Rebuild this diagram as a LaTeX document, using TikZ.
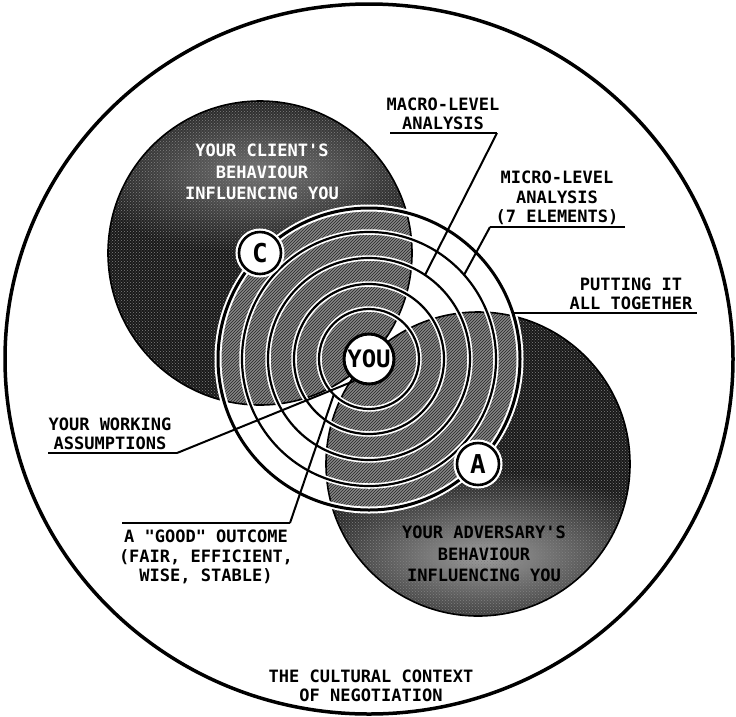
\documentclass[tikz,border=0pt]{standalone}
\usepackage{fontspec}
\newfontfamily\labfont{DejaVu Sans Mono}
\usetikzlibrary{patterns}
\begin{document}
\begin{tikzpicture}[x=1pt,y=-1pt,
  lab/.style={font={\labfont\bfseries\fontsize{17}{19.5}\selectfont}, align=center, inner sep=0pt, text depth=0pt, anchor=south},
  biglab/.style={font={\labfont\bfseries\fontsize{17}{21.5}\selectfont}, align=center, inner sep=0pt, text depth=0pt, anchor=south},
  leader/.style={draw=black, line width=2pt, line join=miter},
  uline/.style={draw=black, line width=2.4pt},
  ring/.style={draw=black, line width=2.2pt, preaction={draw=white, line width=5.5pt}},
  darkfill/.style={fill=black!90},
  bandfill/.style={fill=black!48},
  token/.style={circle, draw=black, line width=2.6pt, fill=white, inner sep=0pt, minimum size=42pt,
     font={\labfont\bfseries\fontsize{26}{26}\selectfont}, preaction={draw=white, line width=7pt}},
  youbox/.style={circle, draw=black, line width=3pt, fill=white, inner sep=0pt, minimum size=50pt,
     font={\labfont\bfseries\fontsize{24}{24}\selectfont}}
]
\useasboundingbox (0,0) rectangle (736,716);
\fill[white] (0,0) rectangle (736,716);

\coordinate (O) at (369,359);
\coordinate (Cc) at (260,253);
\coordinate (Ac) at (478,464);

% cultural context
\draw[line width=3.5pt] (369,359) ellipse [x radius=364pt, y radius=355pt];

% dark circles
\fill[darkfill] (Cc) circle[radius=152pt];
\fill[darkfill] (Ac) circle[radius=152pt];
% softer, lighter areas behind the circle texts
\begin{scope}
  \clip (Cc) circle[radius=152pt];
  \shade[inner color=black!55, outer color=black!90] (262,172) ellipse [x radius=190pt, y radius=80pt];
\end{scope}
\begin{scope}
  \clip (Ac) circle[radius=152pt];
  \shade[inner color=black!38, outer color=black!90] (484,556) ellipse [x radius=200pt, y radius=84pt];
\end{scope}
\fill[pattern=crosshatch dots, pattern color=black!50] (Cc) circle[radius=152pt];
\fill[pattern=crosshatch dots, pattern color=black!50] (Ac) circle[radius=152pt];

% lighter bands inside the rings
\begin{scope}
  \clip (Cc) circle[radius=152pt] (Ac) circle[radius=152pt];
  \fill[bandfill] (O) circle[radius=151pt];
  \fill[pattern=north east lines, pattern color=black!85] (O) circle[radius=151pt];
\end{scope}

\draw[line width=1.6pt] (Cc) circle[radius=152pt];
\draw[line width=1.6pt] (Ac) circle[radius=152pt];

% concentric rings
\foreach \r in {50,75,101,127} \draw[ring] (O) circle[radius=\r pt];
\draw[ring, line width=3pt, preaction={draw=white, line width=7pt}] (O) circle[radius=151pt];

% C and A tokens, YOU
\node[token] (cC) at (Cc) {C};
\node[token] (cA) at (Ac) {A};
\node[youbox] (you) at (O) {YOU};

% labels in the dark circles
\node[biglab, text=white] (client) at (262,200) {YOUR CLIENT'S\\BEHAVIOUR\\INFLUENCING YOU};
\node[biglab] (adv) at (484,582) {YOUR ADVERSARY'S\\BEHAVIOUR\\INFLUENCING YOU};

% callout labels
\node[lab] (mac) at (443,130) {MACRO-LEVEL\\ANALYSIS};
\node[lab] (mic) at (557,223) {MICRO-LEVEL\\ANALYSIS\\(7 ELEMENTS)};
\node[lab] (put) at (631,310) {PUTTING IT\\ALL TOGETHER};
\node[lab] (wa) at (110,450) {YOUR WORKING\\ASSUMPTIONS};
\node[lab] (good) at (206,582) {A "GOOD" OUTCOME\\(FAIR, EFFICIENT,\\WISE, STABLE)};
\node[lab] (ctx) at (371,702) {THE CULTURAL CONTEXT\\OF NEGOTIATION};

% leader coordinates
\coordinate (macL) at (390,133);
\coordinate (macR) at (497,133);
\coordinate (macE) at (425,275);
\coordinate (micL) at (490,227);
\coordinate (micR) at (625,227);
\coordinate (micE) at (464,275);
\coordinate (putL) at (513,313);
\coordinate (putR) at (697,313);
\coordinate (waL) at (48,453);
\coordinate (waR) at (177,453);
\coordinate (goodL) at (122,523);
\coordinate (goodR) at (290,523);
\coordinate (goodE) at (334,394);

\draw[uline] (macL) -- (macR);
\draw[leader] (macR) -- (macE);
\draw[uline] (micR) -- (micL);
\draw[leader] (micL) -- (micE);
\draw[uline] (putL) -- (putR);
\draw[uline] (waL) -- (waR);
\draw[leader] (waR) -- (you.236);
\draw[uline] (goodL) -- (goodR);
\draw[leader] (goodR) -- (goodE);
\end{tikzpicture}
\end{document}
